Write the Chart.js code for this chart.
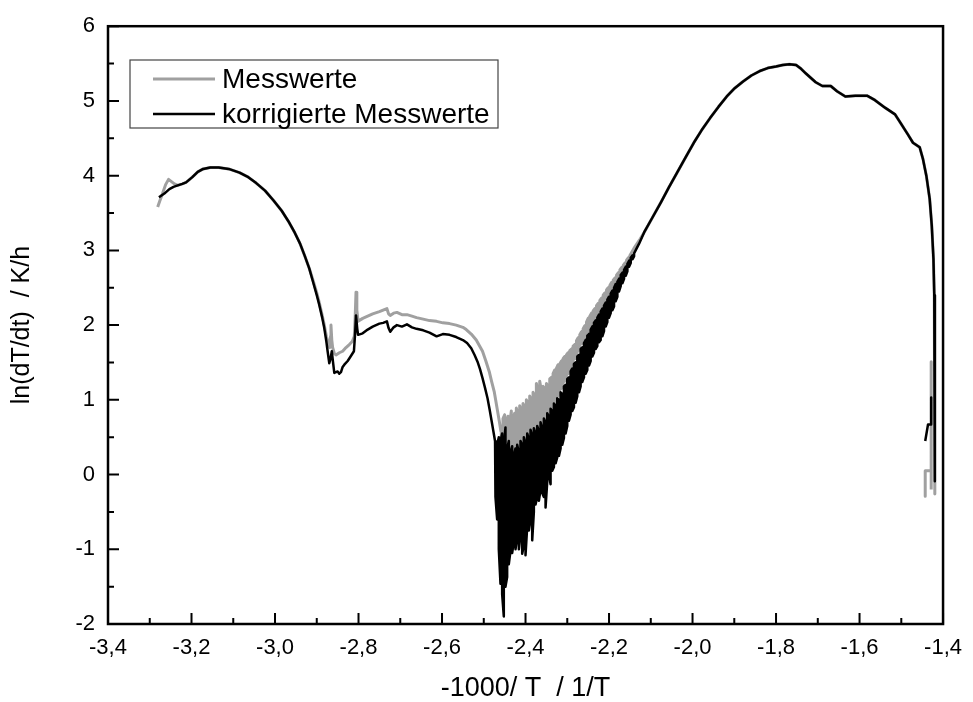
<!DOCTYPE html>
<html>
<head>
<meta charset="utf-8">
<script src="https://cdn.jsdelivr.net/npm/chart.js@4.4.1/dist/chart.umd.min.js"></script>
<style>
  html, body { margin: 0; padding: 0; background: #fff; }
  #wrap { width: 973px; height: 702px; }
</style>
</head>
<body>
<div id="wrap"><canvas id="rateChart" width="973" height="702"></canvas></div>
<script>
// axis ticks
const xTicks = [-3.4, -3.2, -3.0, -2.8, -2.6, -2.4, -2.2, -2.0, -1.8, -1.6, -1.4];
const yTicks = [-2, -1, 0, 1, 2, 3, 4, 5, 6];

// shared stretches where both curves coincide: [x, y]
const leftArc = [
  [-3.222, 3.89], [-3.213, 3.91], [-3.198, 3.98], [-3.185, 4.05], [-3.172, 4.09],
  [-3.155, 4.11], [-3.135, 4.11], [-3.111, 4.09], [-3.085, 4.04], [-3.064, 3.98],
  [-3.045, 3.90], [-3.024, 3.80], [-3.004, 3.67], [-2.984, 3.53], [-2.968, 3.39],
  [-2.953, 3.24], [-2.940, 3.09], [-2.929, 2.93], [-2.918, 2.76]
];
const rightArc = [
  [-2.116, 3.24], [-2.096, 3.44], [-2.076, 3.64], [-2.057, 3.84], [-2.037, 4.04],
  [-2.017, 4.24], [-1.997, 4.44], [-1.978, 4.61], [-1.958, 4.77], [-1.938, 4.92],
  [-1.918, 5.06], [-1.899, 5.17], [-1.879, 5.26], [-1.859, 5.34], [-1.839, 5.40],
  [-1.820, 5.44], [-1.800, 5.46], [-1.784, 5.48], [-1.768, 5.49], [-1.752, 5.48],
  [-1.740, 5.43], [-1.729, 5.37], [-1.717, 5.31], [-1.705, 5.25], [-1.689, 5.20],
  [-1.669, 5.20], [-1.654, 5.13], [-1.634, 5.06], [-1.610, 5.07], [-1.582, 5.07],
  [-1.563, 5.01], [-1.539, 4.91], [-1.515, 4.82], [-1.500, 4.69], [-1.484, 4.55],
  [-1.472, 4.44], [-1.456, 4.38], [-1.448, 4.22], [-1.440, 4.00], [-1.432, 3.69],
  [-1.427, 3.33], [-1.423, 2.89], [-1.421, 2.40]
];

// Messwerte (raw)
const messStart = [
  [-3.281, 3.58], [-3.276, 3.66], [-3.270, 3.75], [-3.262, 3.88], [-3.255, 3.95],
  [-3.248, 3.92], [-3.241, 3.89], [-3.233, 3.87]
];
const messMid = [
  [-2.909, 2.60], [-2.900, 2.43], [-2.894, 2.30], [-2.887, 2.13], [-2.882, 2.00],
  [-2.877, 1.85], [-2.872, 1.75], [-2.869, 1.70], [-2.867, 1.85], [-2.866, 2.00],
  [-2.864, 1.80], [-2.862, 1.70], [-2.858, 1.62], [-2.854, 1.60], [-2.846, 1.63],
  [-2.838, 1.65], [-2.830, 1.70], [-2.822, 1.74], [-2.815, 1.78], [-2.810, 1.85],
  [-2.808, 2.10], [-2.806, 2.44], [-2.804, 2.20], [-2.801, 2.05], [-2.790, 2.09],
  [-2.778, 2.12], [-2.766, 2.15], [-2.750, 2.18], [-2.741, 2.20], [-2.732, 2.22],
  [-2.728, 2.15], [-2.724, 2.13], [-2.716, 2.16], [-2.708, 2.17], [-2.696, 2.14],
  [-2.684, 2.14], [-2.672, 2.12], [-2.661, 2.10], [-2.645, 2.08], [-2.630, 2.06],
  [-2.613, 2.05], [-2.598, 2.03], [-2.582, 2.02], [-2.566, 2.00], [-2.550, 1.97],
  [-2.542, 1.94], [-2.530, 1.88], [-2.518, 1.80], [-2.510, 1.72], [-2.503, 1.65],
  [-2.495, 1.52], [-2.487, 1.38], [-2.481, 1.24], [-2.475, 1.11], [-2.471, 0.98],
  [-2.467, 0.85], [-2.463, 0.72], [-2.459, 0.58]
];
// noisy stretch: [x, upper, lower] per sample
const messNoise = [
  [-2.458, 0.58, 0.30], [-2.454, 0.75, 0.20], [-2.450, 0.80, 0.10], [-2.446, 0.70, 0.10],
  [-2.442, 0.78, 0.15], [-2.438, 0.68, 0.10], [-2.434, 0.85, 0.10], [-2.430, 0.75, 0.15],
  [-2.426, 0.82, 0.15], [-2.422, 0.89, 0.20], [-2.418, 0.80, 0.20], [-2.414, 0.92, 0.25],
  [-2.410, 0.85, 0.25], [-2.406, 0.95, 0.30], [-2.402, 0.90, 0.30], [-2.398, 1.00, 0.35],
  [-2.394, 0.95, 0.35], [-2.390, 1.05, 0.40], [-2.386, 1.00, 0.40], [-2.382, 1.10, 0.45],
  [-2.378, 1.05, 0.45], [-2.374, 1.22, 0.50], [-2.370, 1.10, 0.50], [-2.366, 1.25, 0.55],
  [-2.362, 1.12, 0.55], [-2.358, 1.18, 0.60], [-2.354, 1.15, 0.65], [-2.350, 1.22, 0.70],
  [-2.346, 1.18, 0.75], [-2.342, 1.28, 0.80], [-2.338, 1.30, 0.85], [-2.334, 1.35, 0.90],
  [-2.330, 1.40, 0.95], [-2.326, 1.42, 1.00], [-2.322, 1.47, 1.05], [-2.318, 1.48, 1.10],
  [-2.314, 1.52, 1.15], [-2.310, 1.55, 1.20], [-2.306, 1.58, 1.25], [-2.302, 1.60, 1.30],
  [-2.298, 1.63, 1.35], [-2.294, 1.66, 1.40], [-2.290, 1.68, 1.45], [-2.286, 1.72, 1.50],
  [-2.282, 1.74, 1.55], [-2.278, 1.79, 1.60], [-2.274, 1.83, 1.65], [-2.270, 1.87, 1.70],
  [-2.266, 1.91, 1.75], [-2.262, 1.95, 1.78], [-2.258, 1.99, 1.82], [-2.254, 2.04, 1.86],
  [-2.250, 2.09, 1.90], [-2.246, 2.12, 1.94], [-2.242, 2.16, 1.98], [-2.238, 2.19, 2.02],
  [-2.234, 2.22, 2.06], [-2.230, 2.26, 2.10], [-2.226, 2.29, 2.14], [-2.222, 2.33, 2.18],
  [-2.218, 2.36, 2.22], [-2.214, 2.40, 2.26], [-2.210, 2.43, 2.30], [-2.206, 2.47, 2.34],
  [-2.202, 2.50, 2.38], [-2.198, 2.53, 2.42], [-2.194, 2.57, 2.46], [-2.190, 2.60, 2.50],
  [-2.186, 2.63, 2.54], [-2.182, 2.67, 2.58], [-2.178, 2.70, 2.62], [-2.174, 2.74, 2.66],
  [-2.170, 2.77, 2.70], [-2.166, 2.80, 2.74], [-2.162, 2.83, 2.78], [-2.158, 2.87, 2.82],
  [-2.154, 2.90, 2.86], [-2.150, 2.93, 2.90]
];
const messJoin = [[-2.140, 3.03], [-2.128, 3.13]];
const messEnd = [
  [-1.420, 1.50], [-1.4196, 0.50], [-1.4194, -0.26], [-1.424, null],
  [-1.4284, -0.20], [-1.4284, 1.51], [-1.4284, 0.05], [-1.436, 0.05],
  [-1.4427, 0.05], [-1.4427, -0.29]
];

// korrigierte Messwerte
const korrStart = [
  [-3.278, 3.71], [-3.265, 3.76], [-3.253, 3.82], [-3.243, 3.85], [-3.233, 3.87]
];
const korrMid = [
  [-2.909, 2.58], [-2.900, 2.40], [-2.894, 2.27], [-2.887, 2.10], [-2.882, 1.96],
  [-2.877, 1.78], [-2.874, 1.65], [-2.870, 1.49], [-2.867, 1.55], [-2.864, 1.65],
  [-2.861, 1.50], [-2.858, 1.36], [-2.850, 1.38], [-2.846, 1.35], [-2.842, 1.37],
  [-2.838, 1.44], [-2.834, 1.47], [-2.826, 1.52], [-2.819, 1.58], [-2.811, 1.65],
  [-2.808, 1.90], [-2.806, 2.13], [-2.803, 1.95], [-2.801, 1.87], [-2.790, 1.89],
  [-2.778, 1.94], [-2.766, 1.98], [-2.750, 2.02], [-2.741, 2.03], [-2.732, 2.05],
  [-2.728, 1.96], [-2.724, 1.91], [-2.716, 1.97], [-2.708, 2.00], [-2.696, 1.98],
  [-2.684, 2.01], [-2.672, 1.97], [-2.661, 1.95], [-2.645, 1.93], [-2.630, 1.90],
  [-2.613, 1.85], [-2.598, 1.88], [-2.582, 1.87], [-2.566, 1.84], [-2.550, 1.80],
  [-2.540, 1.76], [-2.530, 1.69], [-2.522, 1.60], [-2.515, 1.51], [-2.509, 1.41],
  [-2.503, 1.29], [-2.497, 1.16], [-2.491, 1.02], [-2.486, 0.87], [-2.481, 0.71],
  [-2.477, 0.58], [-2.473, 0.45]
];
const korrNoise = [
  [-2.472, 0.45, -0.30], [-2.468, 0.40, -0.60], [-2.464, 0.50, -1.00], [-2.460, 0.45, -1.46],
  [-2.456, 0.55, -1.60], [-2.452, 0.40, -1.90], [-2.448, 0.63, -1.50], [-2.444, 0.35, -1.37],
  [-2.440, 0.45, -1.20], [-2.436, 0.30, -1.02], [-2.432, 0.38, -1.05], [-2.428, 0.25, -0.90],
  [-2.424, 0.35, -1.00], [-2.420, 0.40, -0.85], [-2.416, 0.30, -1.00], [-2.412, 0.45, -0.80],
  [-2.408, 0.40, -1.06], [-2.404, 0.50, -0.95], [-2.400, 0.42, -1.08], [-2.396, 0.55, -0.70],
  [-2.392, 0.48, -0.75], [-2.388, 0.60, -0.60], [-2.384, 0.52, -0.88], [-2.380, 0.62, -0.50],
  [-2.376, 0.55, -0.40], [-2.372, 0.65, -0.30], [-2.368, 0.58, -0.35], [-2.364, 0.70, -0.20],
  [-2.360, 0.62, -0.25], [-2.356, 0.75, -0.30], [-2.352, 0.70, -0.44], [-2.348, 0.82, -0.10],
  [-2.344, 0.78, 0.00], [-2.340, 0.88, -0.13], [-2.336, 0.85, 0.05], [-2.332, 0.95, 0.10],
  [-2.328, 0.92, 0.15], [-2.324, 1.02, 0.23], [-2.320, 1.00, 0.25], [-2.316, 1.10, 0.35],
  [-2.312, 1.08, 0.40], [-2.308, 1.18, 0.49], [-2.304, 1.20, 0.55], [-2.300, 1.28, 0.65],
  [-2.296, 1.30, 0.72], [-2.292, 1.38, 0.80], [-2.288, 1.42, 0.85], [-2.284, 1.48, 0.90],
  [-2.280, 1.50, 0.96], [-2.276, 1.58, 1.05], [-2.272, 1.60, 1.10], [-2.268, 1.68, 1.18],
  [-2.264, 1.70, 1.24], [-2.260, 1.76, 1.30], [-2.256, 1.80, 1.35], [-2.252, 1.86, 1.40],
  [-2.248, 1.88, 1.46], [-2.244, 1.94, 1.52], [-2.240, 1.98, 1.58], [-2.236, 2.03, 1.63],
  [-2.232, 2.06, 1.68], [-2.228, 2.10, 1.72], [-2.224, 2.14, 1.77], [-2.220, 2.18, 1.80],
  [-2.216, 2.22, 1.85], [-2.212, 2.26, 1.92], [-2.208, 2.30, 1.98], [-2.204, 2.34, 2.04],
  [-2.200, 2.38, 2.10], [-2.196, 2.42, 2.16], [-2.192, 2.46, 2.20], [-2.188, 2.50, 2.25],
  [-2.184, 2.55, 2.32], [-2.180, 2.58, 2.38], [-2.176, 2.62, 2.45], [-2.172, 2.67, 2.52],
  [-2.168, 2.70, 2.56], [-2.164, 2.74, 2.62], [-2.160, 2.78, 2.66], [-2.156, 2.82, 2.72],
  [-2.152, 2.86, 2.78], [-2.148, 2.90, 2.83], [-2.144, 2.93, 2.88], [-2.140, 2.96, 2.92]
];
const korrJoin = [[-2.128, 3.09]];
const korrEnd = [
  [-1.420, 1.50], [-1.4196, 0.50], [-1.4194, -0.09], [-1.424, null],
  [-1.4284, 1.03], [-1.4284, 0.67], [-1.436, 0.67], [-1.4427, 0.45]
];

// each noisy sample becomes a vertical stroke, alternating direction
const band = rows => rows.flatMap(([x, hi, lo], i) => (i % 2 ? [[x, lo], [x, hi]] : [[x, hi], [x, lo]]));

const messwerte = [...messStart, ...leftArc, ...messMid, ...band(messNoise), ...messJoin, ...rightArc, ...messEnd];
const korrigiert = [...korrStart, ...leftArc, ...korrMid, ...band(korrNoise), ...korrJoin, ...rightArc, ...korrEnd];

const FONT = 'Arial, "Liberation Sans", Helvetica, sans-serif';
Chart.defaults.font.family = FONT;
Chart.defaults.color = '#000';

const toPoints = arr => arr.map(([x, y]) => ({ x, y }));

// frame, inward tick marks and the boxed legend
const framePlugin = {
  id: 'frame',
  afterDatasetsDraw(chart) {
    const { ctx, chartArea: a, scales } = chart;
    ctx.save();
    ctx.strokeStyle = '#000';
    ctx.lineCap = 'butt';

    ctx.lineWidth = 2;
    const xMinor = xTicks.slice(1).map((v, i) => (v + xTicks[i]) / 2);
    const yMinor = yTicks.slice(1).map((v, i) => (v + yTicks[i]) / 2);
    ctx.beginPath();
    xTicks.forEach(v => {
      const px = scales.x.getPixelForValue(v);
      ctx.moveTo(px, a.bottom); ctx.lineTo(px, a.bottom - 11);
    });
    xMinor.forEach(v => {
      const px = scales.x.getPixelForValue(v);
      ctx.moveTo(px, a.bottom); ctx.lineTo(px, a.bottom - 6);
    });
    yTicks.forEach(v => {
      const py = scales.y.getPixelForValue(v);
      ctx.moveTo(a.left, py); ctx.lineTo(a.left + 11, py);
    });
    yMinor.forEach(v => {
      const py = scales.y.getPixelForValue(v);
      ctx.moveTo(a.left, py); ctx.lineTo(a.left + 6, py);
    });
    ctx.stroke();

    ctx.lineWidth = 2.5;
    ctx.strokeRect(a.left, a.top, a.right - a.left, a.bottom - a.top);

    // legend
    const box = { x: 130, y: 60, w: 368, h: 68 };
    ctx.fillStyle = '#fff';
    ctx.fillRect(box.x, box.y, box.w, box.h);
    ctx.lineWidth = 1.2;
    ctx.strokeStyle = '#444';
    ctx.strokeRect(box.x, box.y, box.w, box.h);
    ctx.font = '28px ' + FONT;
    ctx.textBaseline = 'middle';
    ctx.textAlign = 'left';
    chart.data.datasets.forEach((ds, i) => {
      const y = box.y + 19 + i * 35;
      ctx.strokeStyle = ds.borderColor;
      ctx.lineWidth = ds.borderWidth;
      ctx.beginPath();
      ctx.moveTo(153, y); ctx.lineTo(215, y);
      ctx.stroke();
      ctx.fillStyle = '#000';
      ctx.fillText(ds.label, 222, y + 1);
    });
    ctx.restore();
  }
};

new Chart(document.getElementById('rateChart'), {
  type: 'scatter',
  data: {
    datasets: [
      {
        label: 'Messwerte',
        data: toPoints(messwerte),
        borderColor: '#a0a0a0',
        borderWidth: 3,
        showLine: true,
        pointRadius: 0,
        tension: 0,
        borderJoinStyle: 'round',
        spanGaps: false,
        order: 2
      },
      {
        label: 'korrigierte Messwerte',
        data: toPoints(korrigiert),
        borderColor: '#000',
        borderWidth: 2.5,
        showLine: true,
        pointRadius: 0,
        tension: 0,
        borderJoinStyle: 'round',
        spanGaps: false,
        order: 1
      }
    ]
  },
  options: {
    responsive: false,
    animation: false,
    layout: { padding: { top: 23, right: 21, left: 0, bottom: 0 } },
    plugins: { legend: { display: false }, tooltip: { enabled: false } },
    scales: {
      x: {
        type: 'linear',
        min: -3.4,
        max: -1.4,
        grid: { display: false, drawTicks: false },
        border: { display: false },
        afterBuildTicks: s => { s.ticks = xTicks.map(v => ({ value: v })); },
        afterFit: s => { s.height = 78; },
        ticks: {
          padding: 11,
          autoSkip: false,
          maxRotation: 0,
          color: '#000',
          font: { size: 22 },
          callback: v => Number(v).toFixed(1).replace('.', ',')
        },
        title: {
          display: true,
          text: '-1000/ T  / 1/T',
          color: '#000',
          font: { size: 27, lineHeight: 1 },
          padding: { top: 0, bottom: 0 }
        }
      },
      y: {
        type: 'linear',
        min: -2,
        max: 6,
        grid: { display: false, drawTicks: false },
        border: { display: false },
        afterBuildTicks: s => { s.ticks = yTicks.map(v => ({ value: v })); },
        afterFit: s => { s.width = 108; },
        ticks: {
          padding: 13,
          color: '#000',
          font: { size: 22 },
          callback: v => String(v)
        },
        title: {
          display: true,
          text: 'ln(dT/dt)  / K/h',
          color: '#000',
          font: { size: 25, lineHeight: 1 },
          padding: { top: 10, bottom: 0 }
        }
      }
    }
  },
  plugins: [framePlugin]
});
</script>
</body>
</html>
